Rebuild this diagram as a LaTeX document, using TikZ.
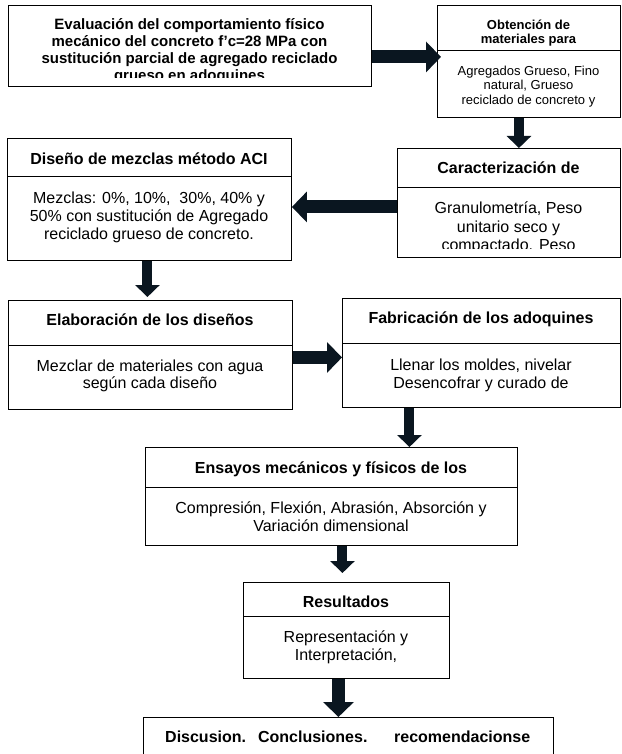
\documentclass[tikz,border=0pt]{standalone}
\usepackage{fontspec}
\setmainfont{Liberation Sans}
\usetikzlibrary{calc,arrows.meta}
\definecolor{arrowink}{RGB}{10,22,32}
\tikzset{
  frame/.style={draw, line width=0.9pt, inner sep=0pt, anchor=north west},
  head/.style={font=\bfseries\fontsize{16}{18}\selectfont, align=center, anchor=base, inner sep=0pt},
  body/.style={font=\fontsize{16}{18}\selectfont, align=center, anchor=base, inner sep=0pt},
  smallhead/.style={font=\bfseries\fontsize{13}{14.5}\selectfont, align=center, anchor=base, inner sep=0pt},
  smallbody/.style={font=\fontsize{13}{14.5}\selectfont, align=center, anchor=base, inner sep=0pt},
  blockarrow/.style={draw=arrowink, line width=10pt, -{Triangle[length=12pt, width=24pt]}},
  widearrow/.style={draw=arrowink, line width=13pt, -{Triangle[length=15pt, width=30pt]}}
}

\begin{document}
\begin{tikzpicture}[x=1pt, y=-1pt]
    \useasboundingbox (0,0) rectangle (621,754);
    \clip (0,0) rectangle (621,754);

    \node [frame, minimum width=363pt, minimum height=81pt] (eval) at (8,5) {};
    \node [frame, minimum width=183pt, minimum height=45pt] (obth) at (437,5) {};
    \node [frame, minimum width=183pt, minimum height=67pt] (obtb) at (437,50) {};
    \node [frame, minimum width=223pt, minimum height=39pt] (carh) at (397,148) {};
    \node [frame, minimum width=223pt, minimum height=70pt] (carb) at (397,187) {};
    \node [frame, minimum width=284pt, minimum height=38pt] (dish) at (7,138) {};
    \node [frame, minimum width=284pt, minimum height=84pt] (disb) at (7,176) {};
    \node [frame, minimum width=284pt, minimum height=45pt] (elah) at (8,300) {};
    \node [frame, minimum width=284pt, minimum height=64pt] (elab) at (8,345) {};
    \node [frame, minimum width=278pt, minimum height=45pt] (fabh) at (342,298) {};
    \node [frame, minimum width=278pt, minimum height=64pt] (fabb) at (342,343) {};
    \node [frame, minimum width=372pt, minimum height=40pt] (ensh) at (145,447) {};
    \node [frame, minimum width=372pt, minimum height=58pt] (ensb) at (145,487) {};
    \node [frame, minimum width=206pt, minimum height=34pt] (resh) at (243,582) {};
    \node [frame, minimum width=206pt, minimum height=62pt] (resb) at (243,616) {};
    \node [frame, minimum width=410pt, minimum height=60pt] (disc) at (143,717) {};

    \begin{scope}
        \clip (eval.north west) rectangle ([yshift=9pt]eval.south east);
        \node [head, font=\bfseries\fontsize{15}{17}\selectfont] (evalt) at (189.5,80.5)
            {Evaluación del comportamiento físico\\mecánico del concreto f'c=28 MPa con\\sustitución parcial de agregado reciclado\\grueso en adoquines};
    \end{scope}
    \node [smallhead] (obtht) at (528.5,44) {Obtención de\\materiales para};
    \node [smallbody] (obtbt) at (528.5,104.5) {Agregados Grueso, Fino\\natural, Grueso\\reciclado de concreto y};
    \node [head] (carht) at (508.5,174) {Caracterización de};
    \begin{scope}
        \clip (carb.north west) rectangle ([yshift=9pt]carb.south east);
        \node [body, font=\fontsize{16}{18.5}\selectfont] (carbt) at (508.5,250.5)
            {Granulometría, Peso\\unitario seco y\\compactado. Peso};
    \end{scope}
    \node [head] (disht) at (149,164.5) {Diseño de mezclas método ACI};
    \node [body] (disbt) at (149,239.5) {Mezclas: 0\%, 10\%,\ \ 30\%, 40\% y\\50\% con sustitución de Agregado\\reciclado grueso de concreto.};
    \node [head] (elaht) at (150,325.5) {Elaboración de los diseños};
    \node [body, font=\fontsize{16}{17}\selectfont] (elabt) at (150,388.5) {Mezclar de materiales con agua\\según cada diseño};
    \node [head] (fabht) at (481,323.5) {Fabricación de los adoquines};
    \node [body] (fabbt) at (481,388.5) {Llenar los moldes, nivelar\\Desencofrar y curado de};
    \node [head] (ensht) at (331,473.5) {Ensayos mecánicos y físicos de los};
    \node [body] (ensbt) at (331,531.5) {Compresión, Flexión, Abrasión, Absorción y\\Variación dimensional};
    \node [head] (resht) at (346,607.5) {Resultados};
    \node [body] (resbt) at (346,660.5) {Representación y\\Interpretación,};
    \node [head, anchor=base west] (disct) at (165,742.5)
        {\makebox[365pt][l]{Discusion.\hspace{12pt}Conclusiones.\hfill recomendacionse}};

    \draw [widearrow, shorten >=-4pt] ([yshift=-11pt]eval.east) -- ([yshift=-11pt]eval.east -| obth.west);
    \draw [blockarrow] ([xshift=-10pt]obtb.south) -- ([xshift=-10pt]obtb.south |- carh.north);
    \draw [widearrow] ([yshift=15.5pt]carb.west) -- ([yshift=15.5pt]carb.west -| disb.east);
    \draw [blockarrow, shorten >=3pt] ([xshift=-2pt]disb.south) -- ([xshift=-2pt]disb.south |- elah.north);
    \draw [widearrow] ([yshift=20pt]elab.east) -- ([yshift=20pt]elab.east -| fabb.west);
    \draw [blockarrow] ([xshift=-72pt]fabb.south) -- ([xshift=-72pt]fabb.south |- ensh.north);
    \draw [blockarrow, shorten >=9pt] ([xshift=11pt]ensb.south) -- ([xshift=11pt]ensb.south |- resh.north);
    \draw [widearrow] ([xshift=-8pt]resb.south) -- ([xshift=-8pt]resb.south |- disc.north);
\end{tikzpicture}
\end{document}
